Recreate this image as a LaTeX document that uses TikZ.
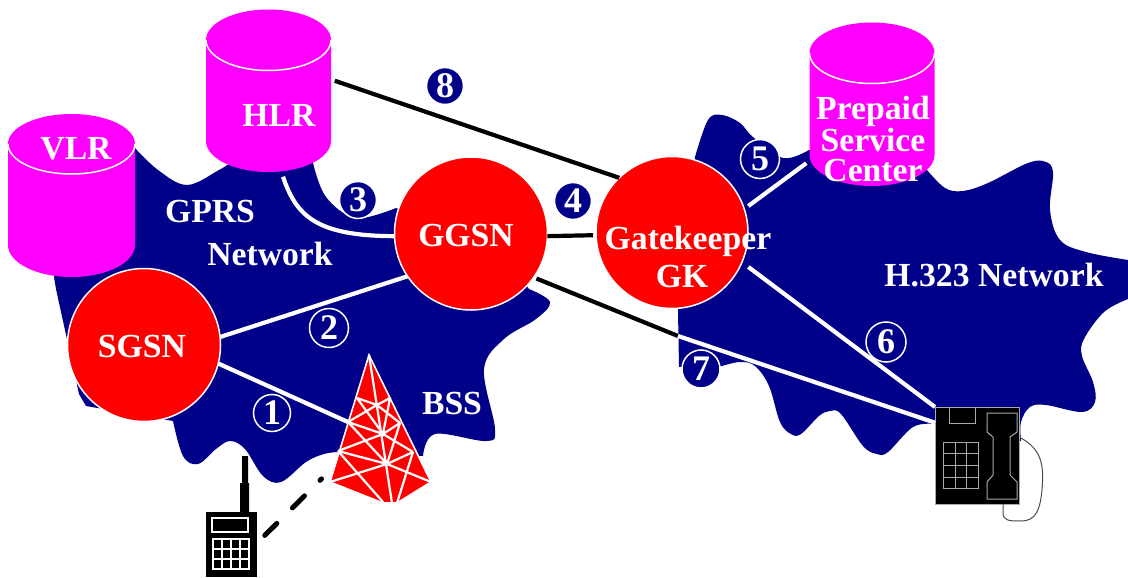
\documentclass[tikz,border=0pt]{standalone}
\usepackage{fontspec}
\setmainfont{Liberation Serif}
\usetikzlibrary{calc}
\definecolor{netblue}{RGB}{0,0,136}
\definecolor{dbmag}{RGB}{255,0,255}
\definecolor{phonegray}{RGB}{170,170,170}
\tikzset{
  cloud fill/.style={fill=netblue},
  sw/.style={circle,fill=red,draw=white,line width=1.5pt,inner sep=0pt,outer sep=0pt},
  lab/.style={text=white,font=\bfseries\fontsize{33.7}{33.7}\selectfont,inner sep=0pt,anchor=base},
  num/.style={circle,fill=netblue,draw=white,line width=1.5pt,inner sep=0pt,text=white,font=\bfseries\fontsize{36}{36}\selectfont},
  box/.style={rectangle,inner sep=0pt,outer sep=0pt},
  wline/.style={draw=white,line width=4.2pt},
  kline/.style={draw=black,line width=4.2pt},
  mast/.style={draw=white,line width=2.2pt},
  pline/.style={draw=phonegray,line width=1pt},
}
\newcommand\mycyl[6]{% cx rx cy ry straight-bottom bottom-ry
  \fill[dbmag] ({#1-#2},#3) -- ({#1-#2},#5) arc[start angle=180,end angle=0,x radius=#2,y radius=#6]
     -- ({#1+#2},#3) arc[start angle=360,end angle=180,x radius=#2,y radius=#4] -- cycle;
  \draw[white,line width=1.5pt] ({#1-#2},#3) arc[start angle=180,end angle=0,x radius=#2,y radius=#4];
}
\begin{document}
\begin{tikzpicture}[x=1pt,y=-1pt]
\useasboundingbox (0,0) rectangle (1128,578);
% GPRS cloud
\fill[cloud fill] plot[smooth,tension=.6] coordinates {(134,147) (158,170) (187,185) (219,170) (227,165)}
  -- (313,163)
  -- plot[smooth,tension=.6] coordinates {(313,163) (326,197) (356,218) (396,208)}
  -- (500,250) -- (529,289)
  -- plot[smooth,tension=.6] coordinates {(529,289) (550,302) (536,319) (504,339) (484,369) (495,429) (486,441) (435,434) (423,456)}
  -- (338,452)
  -- plot[smooth,tension=.6] coordinates {(338,452) (324,454) (306,462) (281,482) (263,476) (245,449) (230,441) (216,449) (198,464) (183,456) (173,421)}
  -- (86,406) -- (79,394) -- (56,289) -- (54,277) -- (60,240) -- cycle;
% H.323 cloud
\fill[cloud fill] plot[smooth,tension=.6] coordinates {(695,157) (708,120) (722,115) (740,123) (753,137) (783,158) (809,150)}
  -- (927,170)
  -- plot[smooth,tension=.6] coordinates {(927,170) (945,188) (963,191) (988,183) (1028,163) (1046,162) (1053,173) (1050,210) (1060,240) (1086,252) (1128,260)}
  -- (1128,299)
  -- plot[smooth,tension=.6] coordinates {(1128,299) (1104,312) (1084,339) (1082,356) (1093,382) (1095,402) (1082,412) (1046,405) (1030,407) (1021,422) (1021,441)}
  -- (934,424)
  -- plot[smooth,tension=.6] coordinates {(934,424) (913,427) (888,452) (877,454) (863,446) (841,414) (830,411) (819,416) (801,434) (791,434) (780,422) (769,386) (755,366) (740,362) (722,366)}
  -- (679,367) -- (678,311) -- (695,157) -- cycle;
% databases
\mycyl{71.5}{63.5}{144}{30}{245}{32}
\mycyl{268.5}{62.5}{40}{30.5}{141}{31}
\mycyl{872}{62.5}{53}{30.5}{155}{31}
\node[box,minimum width=127pt,minimum height=163pt] (vlr) at (71.5,195.5) {};
\node[box,minimum width=125pt,minimum height=163pt] (hlr) at (268.5,90.5) {};
\node[box,minimum width=125pt,minimum height=163pt] (psc) at (872,104.5) {};
% switches
\node[sw,minimum size=153pt] (sgsn) at (144,345) {};
\node[sw,minimum size=153pt] (ggsn) at (471,233.5) {};
\node[sw,minimum size=152pt] (gk) at (672,232.5) {};
% tower
\fill[red,draw=white,line width=1.6pt] (369,355) -- (330,482) -- (383,503) -- (397,503) -- (431,482) -- cycle;
\coordinate (L1) at (357,398); \coordinate (L2) at (348,422); \coordinate (L3) at (338,451); \coordinate (L4) at (330,482);
\coordinate (R1) at (390,398); \coordinate (R2) at (400,423); \coordinate (R3) at (413,452); \coordinate (R4) at (431,482);
\coordinate (C1) at (377,405); \coordinate (C2) at (383,434); \coordinate (C3) at (387,464);
\coordinate (BL) at (383,502); \coordinate (BM) at (392,503); \coordinate (BR) at (397,503); \coordinate (AP) at (369,355);
\draw[mast] (AP) -- (BM) (L1) -- (C1) -- (R1) (L2) -- (C2) -- (R2) (L3) -- (C3) -- (R3) (L4) -- (C3) -- (R4)
  (L1) -- (C2) -- (R1) (L2) -- (C1) -- (R2) (L2) -- (C3) -- (R2) (L3) -- (C2) -- (R3) (L3) -- (BL) (R3) -- (BR);
\node[box,minimum width=101pt,minimum height=149pt] (tower) at (380.5,429.5) {};
% radio
\fill[black] (240,483) rectangle (249,512) (242,456) rectangle (248,483);
\node[box,fill=black,minimum width=51pt,minimum height=65pt] (radio) at (231.5,544.5) {};
\draw[white,line width=1.4pt] (212,518) rectangle (248,532) (213,539) rectangle (249,569);
\draw[white,line width=1.4pt] (222,539) -- (222,569) (231,539) -- (231,569) (240,539) -- (240,569) (213,549) -- (249,549) (213,559) -- (249,559);
% phone
\node[box,fill=black,draw=phonegray,line width=.8pt,minimum width=84pt,minimum height=97pt] (phone) at (977,455.5) {};
\draw[pline] (949,407) -- (949,423) -- (975,423) -- (975,407);
\draw[pline] (943,442) rectangle (978,488) (955,442) -- (955,488) (966,442) -- (966,488) (943,453) -- (978,453) (943,465) -- (978,465) (943,477) -- (978,477);
\draw[pline] (987,413) -- (1017,413) -- (1017,432) -- (1010,437) -- (1010,475) -- (1017,482) -- (1017,499) -- (987,499) -- (987,482) -- (993,475) -- (993,437) -- (987,432) -- cycle;
\draw[draw=black!70,line width=1pt] (1003,504) -- (1003,513) .. controls (1003,521) and (1010,521) .. (1021,521) .. controls (1036,521) and (1040,510) .. (1042,490) .. controls (1044,465) and (1042,450) .. (1021,438);
% connectors
\coordinate (j7) at (678,336);
\draw[wline] (sgsn.6) -- (ggsn.214);
\draw[wline] (sgsn.-14) -- (L2);
\draw[wline,shorten <=5pt] (hlr.-81) .. controls (296,215) and (315,236) .. (ggsn.182);
\draw[kline,shorten >=3pt] (ggsn.-2) -- (gk.182.5);
\draw[kline,shorten <=4pt] (hlr.10) -- (gk.134);
\draw[wline,shorten <=5pt,shorten >=4pt] (gk.18) -- (psc.222);
\draw[wline,shorten <=8pt] (gk.-23) -- (phone.north west);
\draw[kline,shorten <=3pt] (ggsn.-35) -- (j7);
\draw[wline] (j7) -- (phone.142);
\draw[black,line width=5pt,line cap=round,dash pattern=on 17pt off 22pt,shorten <=11pt,shorten >=12pt] (radio.3) -- (tower.219);
% numbers
\node[num,minimum size=37pt] (n1) at (272,413) {1};
\node[num,minimum size=39pt] (n2) at (329,328) {2};
\node[num,minimum size=37pt] (n3) at (358,200) {3};
\node[num,minimum size=37pt] (n4) at (573,201) {4};
\node[num,minimum size=39pt] (n5) at (760,159) {5};
\node[num,minimum size=40pt] (n6) at (886,342) {6};
\node[num,minimum size=38pt] (n7) at (701,369) {7};
\node[num,minimum size=37pt] (n8) at (445,86) {8};
% labels
\node[lab] (tvlr) at (76,159) {VLR};
\node[lab] (thlr) at (279,126) {HLR};
\node[lab] (tgprs) at (210,222) {GPRS};
\node[lab] (tnet) at (270,265) {Network};
\node[lab] (tggsn) at (466,246) {GGSN};
\node[lab] (tsgsn) at (142,357) {SGSN};
\node[lab] (tbss) at (452,414) {BSS};
\node[lab] (tgk) at (688,249) {Gatekeeper};
\node[lab] (tgk2) at (682,287) {GK};
\node[lab] (th) at (994,286) {H.323 Network};
\node[lab,anchor=center,align=center,font=\bfseries\fontsize{33.7}{30}\selectfont] (tpsc) at (873,139) {Prepaid\\Service\\Center};
\end{tikzpicture}
\end{document}
